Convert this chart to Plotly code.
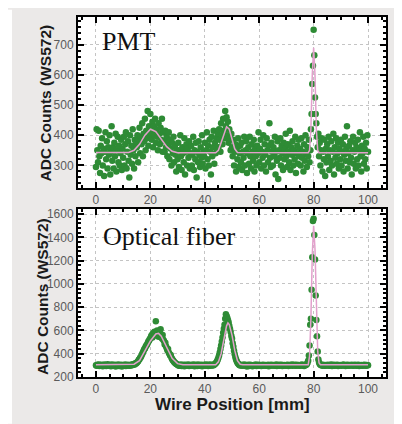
import numpy as np
import plotly.graph_objects as go
from plotly.subplots import make_subplots

# wire positions, 0.25 mm steps
wire_pos = np.arange(0, 100.001, 0.25)

pmt_counts = [
    295, 420, 350, 310, 415, 330, 275, 365, 340, 390, 300, 355, 265, 345, 410, 320, 380, 290, 360, 335,
    400, 270, 345, 430, 315, 360, 290, 375, 330, 405, 280, 350, 395, 310, 365, 300, 340, 385, 285, 355,
    325, 395, 300, 370, 410, 290, 345, 380, 315, 260, 400, 335, 365, 305, 420, 350, 290, 385, 330, 375,
    360, 400, 310, 385, 425, 340, 395, 370, 440, 330, 405, 380, 455, 350, 415, 390, 480, 365, 430, 400,
    470, 410, 385, 445, 360, 430, 400, 455, 375, 420, 395, 350, 440, 405, 370, 425, 385, 455, 345, 410,
    380, 345, 415, 360, 395, 330, 370, 410, 320, 385, 355, 300, 375, 340, 395, 310, 365, 335, 280, 350,
    320, 375, 295, 350, 400, 330, 285, 360, 340, 310, 390, 270, 345, 370, 300, 355, 325, 380, 290, 340,
    365, 300, 335, 395, 285, 350, 320, 375, 260, 345, 310, 380, 335, 295, 360, 325, 400, 305, 345, 330,
    375, 290, 350, 410, 320, 365, 300, 385, 345, 270, 395, 330, 360, 415, 305, 375, 340, 390, 350, 405,
    360, 420, 385, 345, 440, 400, 370, 455, 415, 390, 480, 430, 460, 400, 445, 375, 420, 390, 350, 405,
    360, 330, 385, 300, 345, 370, 280, 355, 320, 390, 295, 340, 365, 310, 375, 285, 345, 325, 395, 300,
    350, 380, 275, 340, 360, 305, 395, 330, 290, 370, 345, 315, 385, 280, 355, 330, 300, 365, 340, 410,
    310, 355, 385, 290, 345, 325, 400, 300, 370, 335, 280, 390, 350, 310, 365, 440, 325, 295, 375, 345,
    300, 360, 330, 395, 270, 345, 315, 380, 255, 350, 325, 390, 300, 365, 340, 285, 375, 320, 355, 405,
    330, 295, 370, 345, 310, 415, 285, 360, 335, 380, 300, 350, 320, 395, 275, 340, 365, 305, 385, 330,
    355, 300, 390, 325, 345, 280, 370, 315, 400, 340, 295, 360, 330, 385, 310, 350, 420, 470, 570, 630,
    750, 665, 525, 470, 440, 395, 360, 405, 330, 375, 300, 350, 390, 280, 345, 320, 385, 265, 355, 310,
    370, 330, 395, 285, 350, 315, 380, 300, 345, 405, 270, 360, 325, 390, 305, 340, 375, 290, 355, 320,
    385, 300, 345, 370, 280, 335, 395, 315, 355, 430, 290, 340, 365, 310, 380, 325, 270, 350, 395, 305,
    345, 375, 290, 360, 320, 385, 300, 350, 410, 330, 280, 365, 340, 395, 305, 355, 320, 375, 290, 400,
    345,
]

fiber_counts = [
    302, 296, 305, 299, 308, 294, 301, 306, 297, 303, 292, 300, 307, 298, 304, 295, 301, 309, 296, 303,
    298, 305, 293, 301, 307, 296, 302, 299, 306, 291, 300, 304, 297, 308, 295, 302, 299, 305, 290, 301,
    303, 296, 300, 307, 294, 302, 298, 305, 301, 296, 304, 299, 306, 302, 309, 305, 312, 308, 318, 315,
    322, 330, 335, 348, 352, 365, 372, 385, 398, 410, 425, 438, 445, 460, 470, 478, 490, 505, 512, 525,
    530, 548, 560, 540, 575, 555, 590, 565, 680, 580, 600, 560, 545, 590, 570, 610, 555, 530, 560, 520,
    510, 480, 495, 465, 450, 430, 440, 410, 400, 385, 390, 365, 355, 345, 338, 328, 322, 318, 312, 310,
    306, 301, 297, 304, 299, 308, 295, 302, 298, 305, 293, 300, 306, 297, 303, 299, 307, 294, 301, 304,
    298, 303, 296, 307, 300, 292, 305, 299, 302, 295, 308, 301, 297, 304, 299, 306, 293, 302, 298, 305,
    300, 296, 307, 299, 303, 294, 301, 308, 297, 302, 305, 298, 304, 300, 308, 312, 318, 325, 336, 350,
    365, 385, 410, 440, 470, 505, 540, 580, 615, 650, 700, 740, 725, 710, 690, 670, 640, 615, 590, 555,
    530, 490, 460, 425, 395, 370, 350, 335, 322, 315, 308, 303, 298, 305, 300, 296, 304, 299, 307, 301,
    297, 303, 290, 301, 306, 294, 300, 305, 298, 302, 293, 299, 304, 296, 301, 307, 295, 300, 303, 298,
    305, 299, 302, 294, 300, 306, 297, 303, 298, 304, 296, 301, 299, 305, 293, 300, 303, 297, 306, 301,
    298, 304, 300, 296, 302, 307, 294, 301, 299, 305, 297, 303, 300, 306, 295, 301, 298, 304, 300, 297,
    303, 299, 306, 295, 301, 304, 298, 302, 307, 296, 300, 305, 299, 303, 297, 306, 301, 298, 304, 300,
    296, 303, 300, 307, 298, 302, 295, 304, 301, 306, 310, 322, 340, 385, 470, 650, 700, 950, 1230, 1540,
    1560, 1420, 1210, 900, 690, 550, 420, 350, 325, 312, 306, 300, 303, 297, 305, 299, 302, 296, 304, 300,
    298, 305, 301, 296, 303, 299, 307, 294, 302, 300, 305, 297, 301, 304, 298, 306, 295, 302, 299, 303,
    300, 296, 304, 301, 307, 298, 302, 295, 303, 299, 306, 300, 297, 304, 301, 298, 305, 302, 296, 303,
    299, 305, 301, 297, 303, 300, 306, 295, 302, 298, 304, 301, 297, 303, 299, 306, 300, 296, 304, 301,
    302,
]

# fitted curves (pink)
pmt_fit_x = [0, 12, 14, 16, 18, 20, 22, 24, 26, 28, 30, 44, 45, 46, 47, 48, 49, 50, 51, 52,
             78, 78.5, 79, 79.5, 80, 80.5, 81, 81.5, 82, 100]
pmt_fit_y = [343, 343, 350, 370, 400, 420, 412, 387, 362, 347, 342, 342, 350, 375, 405, 428, 420, 385, 355, 343,
             342, 350, 420, 600, 690, 600, 420, 350, 342, 342]

fiber_fit_x = [0, 13, 14, 16, 18, 20, 22, 23, 24, 26, 28, 30, 32, 44, 45, 46, 47, 48, 48.5, 49, 50, 51, 52, 53, 54,
               78, 78.5, 79, 79.5, 80, 80.5, 81, 81.5, 82, 82.5, 100]
fiber_fit_y = [305, 305, 310, 340, 420, 510, 570, 575, 550, 460, 360, 315, 305, 305, 330, 400, 520, 640, 665, 650, 560,
               430, 340, 310, 305, 305, 380, 700, 1250, 1500, 1300, 800, 420, 320, 305, 305]

GREEN = "#2e8b35"
PINK = "#e3a0cc"

fig = make_subplots(rows=2, cols=1)

fig.add_trace(go.Scatter(x=wire_pos, y=pmt_counts, mode="markers",
                         marker=dict(color=GREEN, size=6.5), showlegend=False), row=1, col=1)
fig.add_trace(go.Scatter(x=pmt_fit_x, y=pmt_fit_y, mode="lines",
                         line=dict(color=PINK, width=1.5), showlegend=False), row=1, col=1)
fig.add_trace(go.Scatter(x=wire_pos, y=fiber_counts, mode="markers",
                         marker=dict(color=GREEN, size=6.5), showlegend=False), row=2, col=1)
fig.add_trace(go.Scatter(x=fiber_fit_x, y=fiber_fit_y, mode="lines",
                         line=dict(color=PINK, width=1.5), showlegend=False), row=2, col=1)

axis_style = dict(
    showline=True, linewidth=2, linecolor="black", mirror="allticks",
    ticks="inside", ticklen=6, tickwidth=1.5, tickcolor="black",
    showgrid=True, gridcolor="#c4c4c4", griddash="dot", gridwidth=1,
    zeroline=False,
    tickfont=dict(family="Liberation Sans, Arial", size=12, color="#5a5a5a"),
)

for r in (1, 2):
    fig.update_xaxes(range=[-6.6, 106.6], dtick=20, tick0=0,
                     minor=dict(dtick=5, ticks="inside", ticklen=3, tickcolor="black", showgrid=False),
                     row=r, col=1, **axis_style)

fig.update_yaxes(range=[225, 792], dtick=100, tick0=0,
                 minor=dict(dtick=20, ticks="inside", ticklen=3, tickcolor="black", showgrid=False),
                 row=1, col=1, **axis_style)
fig.update_yaxes(range=[200, 1645], dtick=200, tick0=0,
                 minor=dict(dtick=40, ticks="inside", ticklen=3, tickcolor="black", showgrid=False),
                 row=2, col=1, **axis_style)

# page body adds 8px on the left and top, so the figure is 8px smaller
fig.update_layout(
    width=394, height=416,
    margin=dict(l=70, r=16, t=7, b=47),
    paper_bgcolor="#ebe9e8",
    plot_bgcolor="white",
    yaxis=dict(domain=[0.525, 1.0]),
    yaxis2=dict(domain=[0.0, 0.467]),
)

# white strip on the left edge of the picture
fig.add_shape(type="rect", xref="paper", yref="paper",
              x0=-0.2273, x1=-0.2143, y0=-0.13, y1=1.02,
              fillcolor="white", line_width=0, layer="below")

ytitle_font = dict(family="Liberation Sans, Arial", size=15.5, color="#1a1a1a")
fig.add_annotation(text="<b>ADC Counts (WS572)</b>", xref="paper", yref="paper",
                   x=-0.107, y=0.7597, xanchor="center", yanchor="middle",
                   textangle=-90, showarrow=False, font=ytitle_font)
fig.add_annotation(text="<b>ADC Counts (WS572)</b>", xref="paper", yref="paper",
                   x=-0.115, y=0.2238, xanchor="center", yanchor="middle",
                   textangle=-90, showarrow=False, font=ytitle_font)
fig.add_annotation(text="<b>Wire Position [mm]</b>", xref="paper", yref="paper",
                   x=0.5, y=-0.0773, xanchor="center", yanchor="middle", showarrow=False,
                   font=dict(family="Liberation Sans, Arial", size=17, color="#1a1a1a"))

label_font = dict(family="Liberation Serif, Times New Roman", size=26, color="#111111")
fig.add_annotation(text="PMT", xref="x", yref="y", x=1.5, y=710,
                   xanchor="left", yanchor="middle", showarrow=False, font=label_font)
fig.add_annotation(text="Optical fiber", xref="x2", yref="y2", x=2.0, y=1410,
                   xanchor="left", yanchor="middle", showarrow=False, font=label_font)

fig.write_html("out.html")
